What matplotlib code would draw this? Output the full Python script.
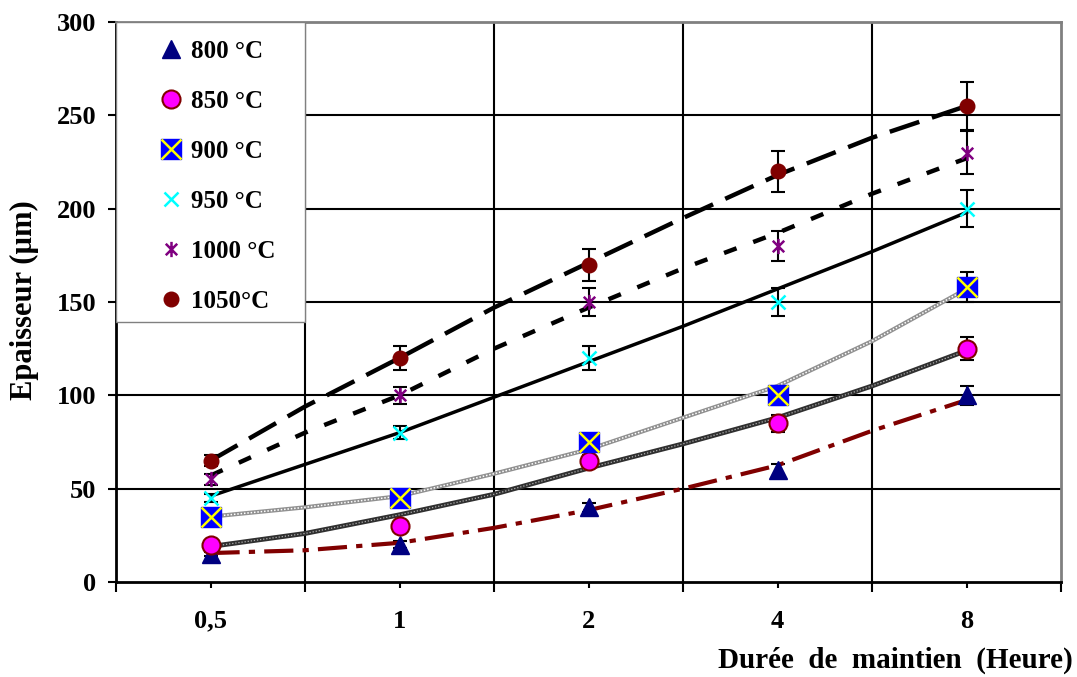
import matplotlib
matplotlib.use("Agg")
import matplotlib.pyplot as plt
from matplotlib.patches import Rectangle
from matplotlib.path import Path

plt.rcParams['font.family'] = ['Liberation Serif', 'DejaVu Serif']
plt.rcParams['font.weight'] = 'bold'

# --- DONNEES ---
durees = ["0,5", "1", "2", "4", "8"]
pos = [1, 2, 3, 4, 5]

ep_800 = [15, 20, 40, 60, 100]
ep_850 = [20, 30, 65, 85, 125]
ep_900 = [35, 45, 75, 100, 158]
ep_950 = [45, 80, 120, 150, 200]
ep_1000 = [55, 100, 150, 180, 230]
ep_1050 = [65, 120, 170, 220, 255]

err_800 = [1, 2, 2.5, 3, 5]
err_850 = [1.5, 2, 3, 4.5, 6]
err_900 = [2, 3, 4, 5, 8]
err_950 = [2, 3.6, 6.4, 7.3, 10]
err_1000 = [3, 4.7, 7.3, 8, 11.5]
err_1050 = [3, 6.3, 8.6, 11, 13]

# courbes de tendance (valeurs lues aux categories et a mi-chemin)
pos_tend = [1, 1.5, 2, 2.5, 3, 3.5, 4, 4.5, 5]
tend_800 = [15.5, 17, 21, 29, 38.5, 50, 62.5, 81, 97.5]
tend_850 = [19, 26, 36, 47, 61, 74, 88, 105, 124]
tend_900 = [35, 40, 46, 58, 71, 88, 105, 129, 157]
tend_950 = [46, 63, 80, 99, 118, 137, 157, 177, 198]
tend_1000 = [57, 80, 100, 125, 147, 168, 187, 208, 227]
tend_1050 = [65, 94, 120, 147, 171, 195, 218, 238, 255]

# marqueur etoile (croix + trait vertical)
etoile = Path([(0, -1), (0, 1), (-0.75, -0.75), (0.75, 0.75), (-0.75, 0.75), (0.75, -0.75)],
              [Path.MOVETO, Path.LINETO, Path.MOVETO, Path.LINETO, Path.MOVETO, Path.LINETO])

fig = plt.figure(figsize=(10.77, 6.77), dpi=100)
ax = fig.add_axes([116/1077, 95/677, 945/1077, 560/677])

# grille
for y in [50, 100, 150, 200, 250]:
    ax.axhline(y, color='black', lw=1.5, zorder=1)
for x in [1.5, 2.5, 3.5, 4.5]:
    ax.axvline(x, color='black', lw=1.5, zorder=1)

# barres d'erreur
for vals, errs in [(ep_800, err_800), (ep_850, err_850), (ep_900, err_900),
                   (ep_950, err_950), (ep_1000, err_1000), (ep_1050, err_1050)]:
    ax.errorbar(pos, vals, yerr=errs, fmt='none', ecolor='black',
                elinewidth=1.5, capsize=5, capthick=1.5, zorder=2)

# courbes de tendance
ax.plot(pos_tend, tend_800, color='#800000', lw=3, dashes=(7, 2.2, 1.5, 2.2), zorder=3)
ax.plot(pos_tend, tend_850, color='#303030', lw=3.5, zorder=3)
ax.plot(pos_tend, tend_850, color='#b0b0b0', lw=0.9, linestyle=(0, (1, 1.5)), zorder=3)
ax.plot(pos_tend, tend_900, color='#909090', lw=3, zorder=3)
ax.plot(pos_tend, tend_900, color='white', lw=1.1, linestyle=(0, (1, 1.2)), zorder=3)
ax.plot(pos_tend, tend_950, color='black', lw=2.5, zorder=3)
ax.plot(pos_tend, tend_1000, color='black', lw=3.2, dashes=(3, 4), zorder=3)
ax.plot(pos_tend, tend_1050, color='black', lw=3.2, dashes=(7, 3), zorder=3)

# points
h800, = ax.plot(pos, ep_800, '^', color='#000080', ms=13, mec='#000080', ls='none', zorder=4)
h850, = ax.plot(pos, ep_850, 'o', color='#ff00ff', ms=13, mec='#800000', mew=1.5, ls='none', zorder=4)
ax.plot(pos, ep_900, 's', color='#0000ff', ms=14.5, mec='#0000ff', ls='none', zorder=4)
ax.plot(pos, ep_900, 'x', color='#ffff00', ms=14, mew=1.8, ls='none', zorder=4)
h950, = ax.plot(pos, ep_950, 'x', color='#00ffff', ms=10, mew=1.8, ls='none', zorder=4)
h1000, = ax.plot(pos, ep_1000, marker=etoile, color='#800080', ms=11, mew=1.8, ls='none', zorder=4)
h1050, = ax.plot(pos, ep_1050, 'o', color='#800000', ms=10.5, ls='none', zorder=4)

# poignee 900 : carre bleu + croix jaune
h900a, = ax.plot([], [], 's', color='#0000ff', ms=14.5, mec='#0000ff', ls='none')
h900b, = ax.plot([], [], 'x', color='#ffff00', ms=14, mew=1.8, ls='none')

# fond blanc de la legende
ax.add_patch(Rectangle((0, 0.464), 0.2, 0.536, transform=ax.transAxes,
                       facecolor='white', edgecolor='#808080', lw=1, zorder=4.5))

leg = ax.legend([h800, h850, (h900a, h900b), h950, h1000, h1050],
                ["800 °C", "850 °C", "900 °C", "950 °C", "1000 °C", "1050°C"],
                loc='upper left', bbox_to_anchor=(0.045, 0.968), frameon=False,
                fontsize=18, handlelength=1.0, handletextpad=0.3,
                labelspacing=1.08, borderpad=0, borderaxespad=0)
leg.set_zorder(6)

# axes
ax.set_xlim(0.5, 5.5)
ax.set_ylim(0, 300)
ax.set_yticks([0, 50, 100, 150, 200, 250, 300])
ax.set_xticks([0.5, 1.5, 2.5, 3.5, 4.5, 5.5])
ax.set_xticklabels([])
ax.set_xticks(pos, minor=True)
ax.set_xticklabels(durees, minor=True)
ax.tick_params(axis='y', direction='out', length=6, width=1.5, labelsize=19, pad=8)
ax.tick_params(axis='x', which='major', direction='out', length=7, width=1.5)
ax.tick_params(axis='x', which='minor', direction='out', length=4, width=1.5,
               labelsize=19, pad=16)
for lab in ax.get_xticklabels(minor=True) + ax.get_yticklabels():
    lab.set_fontweight('bold')

ax.spines['left'].set_linewidth(2)
ax.spines['bottom'].set_linewidth(2)
ax.spines['top'].set_color('#808080')
ax.spines['right'].set_color('#808080')
ax.spines['top'].set_linewidth(2)
ax.spines['right'].set_linewidth(2)

ax.set_ylabel("Epaisseur (µm)", fontsize=22, fontweight='bold')
ax.yaxis.set_label_coords(-0.082, 0.5036)
fig.text(1073/1077, 1 - 660/677, "Durée  de  maintien  (Heure)", ha='right', va='center',
         fontsize=21, fontweight='bold')

fig.savefig("out.png", dpi=100)
